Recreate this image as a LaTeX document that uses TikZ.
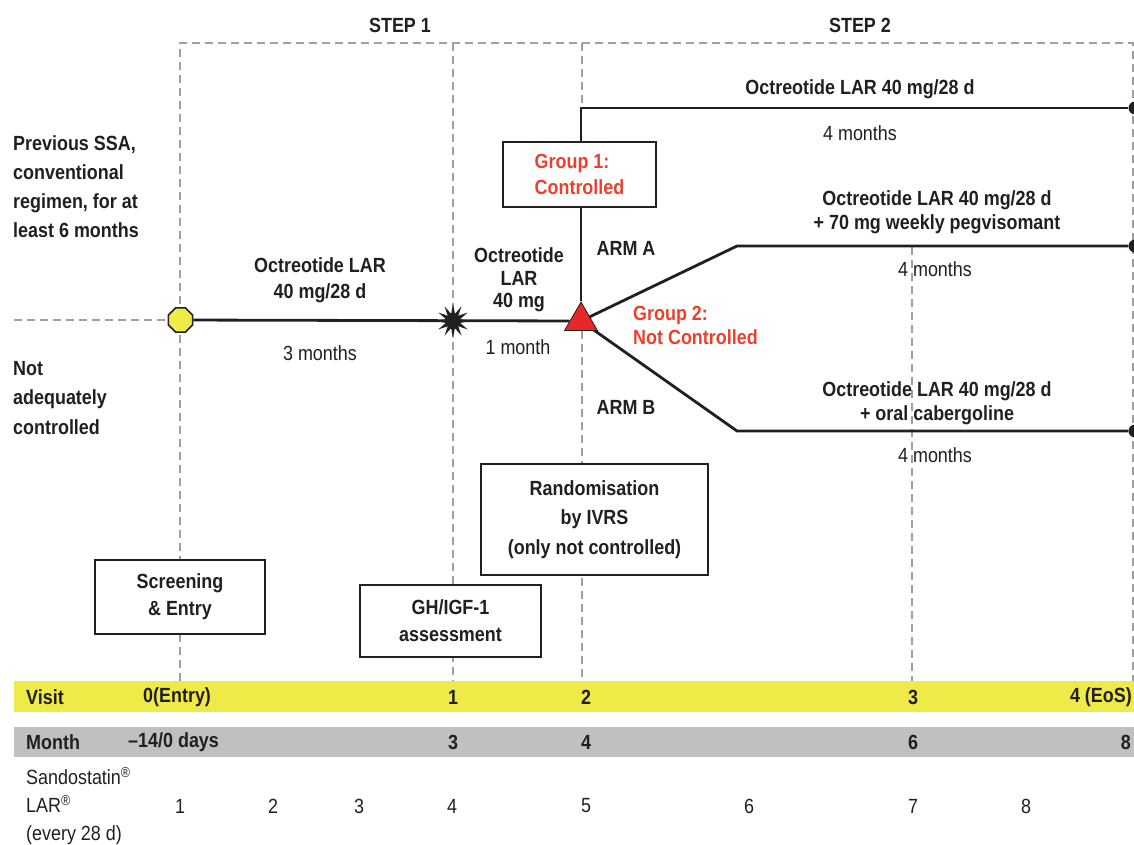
\documentclass[tikz,border=0pt]{standalone}
\usepackage{fontspec}
\setmainfont{Liberation Sans}[FakeStretch=0.875]
\usetikzlibrary{shapes.geometric}
\definecolor{ylw}{RGB}{238,234,72}
\definecolor{gry}{RGB}{192,192,192}
\definecolor{dgry}{RGB}{160,160,160}
\definecolor{ink}{RGB}{35,31,32}
\definecolor{redt}{RGB}{236,64,44}
\definecolor{redf}{RGB}{232,40,40}
\pgfdeclarelayer{bg}
\pgfsetlayers{bg,main}
\begin{document}
\begin{tikzpicture}[x=1pt,y=-1pt,
  every node/.style={font=\fontsize{20.5}{24}\selectfont, text=ink, inner sep=0pt},
  bt/.style={font=\fontsize{20.5}{#1}\selectfont\bfseries}, bt/.default=24,
  rt/.style={font=\fontsize{20.5}{#1}\selectfont}, rt/.default=24,
  boxst/.style={draw=ink, line width=2pt, fill=white, align=center},
  solidln/.style={draw=ink, line width=2.8pt},
  dashln/.style={draw=dgry, line width=1.5pt, dash pattern=on 8pt off 5pt},
  enddot/.style={circle, fill=ink, minimum size=13pt}
]
\useasboundingbox (0,0) rectangle (1134,844);

% bars
\fill[ylw] (14,681) rectangle (1134,712);
\fill[gry] (14,727) rectangle (1134,757);

% boxes
\node[boxst,bt=27,minimum width=170,minimum height=74] (scr) at (180,597) {Screening\\\& Entry};
\node[boxst,bt=27,minimum width=181,minimum height=72] (gh) at (450.5,621) {GH/IGF-1\\assessment};
\node[boxst,bt=29.5,minimum width=227,minimum height=111] (rand) at (594.5,519.5) {Randomisation\\by IVRS\\(only not controlled)};
\node[boxst,bt=26,minimum width=153,minimum height=65,align=left,text=redt] (g1) at (579.5,174.5) {Group 1:\\Controlled};

% markers
\node[regular polygon, regular polygon sides=8, minimum size=26, fill=ylw, draw=ink, line width=1.5pt] (oct) at (180.5,320) {};
\node[star, star points=12, star point ratio=2.3, minimum size=34, fill=ink] (star) at (453,321) {};
\node[regular polygon, regular polygon sides=3, minimum size=38, fill=redf, draw=ink, line width=0.8pt] (tri) at (581,321) {};
\node[enddot] (e1) at (1135,108) {};
\node[enddot] (e2) at (1135,246) {};
\node[enddot] (e3) at (1135,431) {};
\coordinate (ka) at (737,246);
\coordinate (kb) at (737,431);

\begin{pgfonlayer}{bg}
\draw[dashln] (180,681) -- (180,43) -- (1133,43) -- (1133,681);
\draw[dashln] (453,43) -- (453,681);
\draw[dashln] (582,43) -- (582,108);
\draw[dashln] (582,331) -- (582,681);
\draw[dashln] (912,247) -- (912,681);
\draw[dashln] (14,320) -- (168,320);
\draw[solidln] (oct) -- (tri);
\draw[solidln] (tri.corner 1) |- (e1);
\draw[solidln] (tri.center) -- (ka) -- (e2);
\draw[solidln] (tri.center) -- (kb) -- (e3);
\end{pgfonlayer}

% texts
\node[bt] (s1) at (400,25) {STEP 1};
\node[bt] (s2) at (860,25) {STEP 2};
\node[bt=29,align=left,anchor=west] (prev) at (13,186.5) {Previous SSA,\\conventional\\regimen, for at\\least 6 months};
\node[bt=29.5,align=left,anchor=west] (nac) at (13,398) {Not\\adequately\\controlled};
\node[bt=26,align=center] (t1) at (320,280) {Octreotide LAR\\40 mg/28 d};
\node[rt] (m3) at (320,353) {3 months};
\node[bt=22.5,align=center] (t2) at (519,280) {Octreotide\\LAR\\40 mg};
\node[rt] (m1) at (518,347) {1 month};
\node[bt] (armA) at (626,248) {ARM A};
\node[bt] (armB) at (626,407) {ARM B};
\node[bt=24,align=left,text=redt,anchor=west] (g2) at (633,325) {Group 2:\\Not Controlled};
\node[bt] (tA) at (860,89) {Octreotide LAR 40 mg/28 d};
\node[rt] (mA) at (860,133) {4 months};
\node[bt=24,align=center] (tB) at (937,212) {Octreotide LAR 40 mg/28 d\\+ 70 mg weekly pegvisomant};
\node[rt] (mB) at (935,269) {4 months};
\node[bt=24,align=center] (tC) at (937,403) {Octreotide LAR 40 mg/28 d\\+ oral cabergoline};
\node[rt] (mC) at (935,455) {4 months};

% bar texts
\node[bt,anchor=west] (vl) at (26,697) {Visit};
\node[bt,anchor=west] (v0) at (143,697) {0(Entry)};
\node[bt] (v1) at (453,697) {1};
\node[bt] (v2) at (586,697) {2};
\node[bt] (v3) at (913,697) {3};
\node[bt,anchor=east] (v4) at (1132,697) {4 (EoS)};
\node[bt,anchor=west] (ml) at (26,742) {Month};
\node[bt,anchor=west] (m0) at (128,742) {–14/0 days};
\node[bt] (mo3) at (453,742) {3};
\node[bt] (mo4) at (586,742) {4};
\node[bt] (mo6) at (913,742) {6};
\node[bt,anchor=east] (mo8) at (1131,742) {8};
\node[rt=28,align=left,anchor=west] (sl) at (26,806) {Sandostatin\textsuperscript{®}\\LAR\textsuperscript{®}\\(every 28 d)};
\node[rt] (n1) at (180,806) {1};
\node[rt] (n2) at (273,806) {2};
\node[rt] (n3) at (359,806) {3};
\node[rt] (n4) at (452,806) {4};
\node[rt] (n5) at (586,806) {5};
\node[rt] (n6) at (749,806) {6};
\node[rt] (n7) at (913,806) {7};
\node[rt] (n8) at (1026,806) {8};
\end{tikzpicture}
\end{document}
